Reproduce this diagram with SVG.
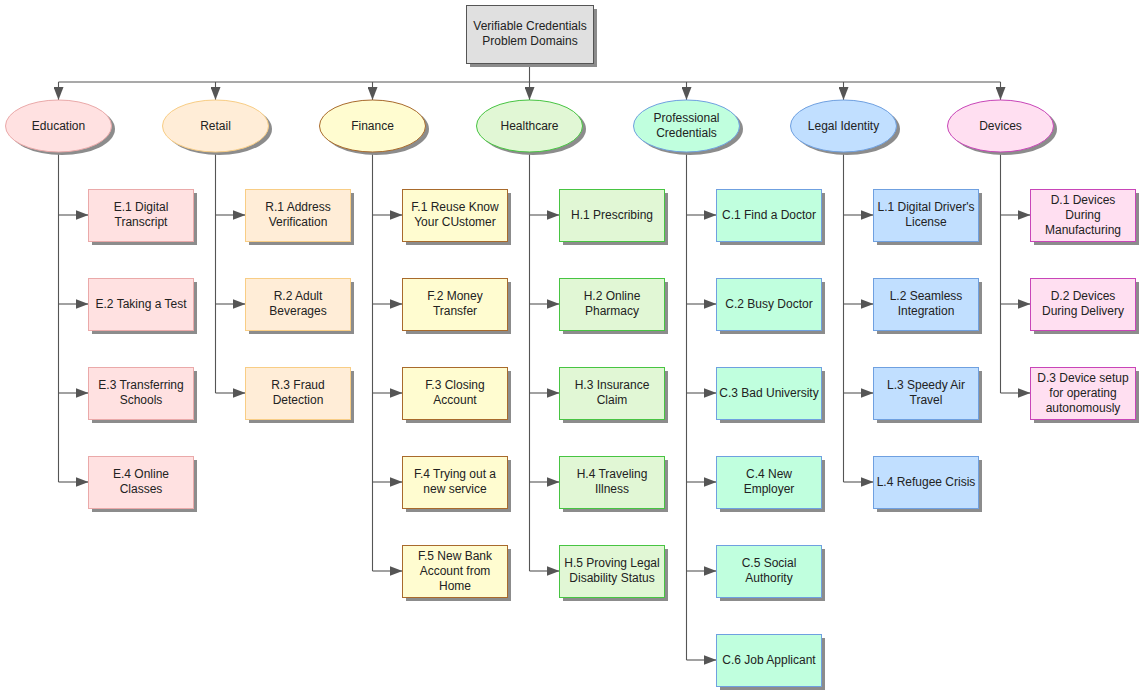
<svg xmlns="http://www.w3.org/2000/svg" width="1145" height="695" viewBox="0 0 1145 695">
<style>
text{font-family:"Liberation Sans",Arial,sans-serif;font-size:12px;fill:#222;text-anchor:middle}
.sh{fill:#8c8c8c}
.c{fill:none;stroke:#555;stroke-width:1.1}
.e{fill:#ffe1e1;stroke:#eaa9a9}
.r{fill:#ffedd7;stroke:#f8cd85}
.f{fill:#fffcd0;stroke:#a86a2c}
.h{fill:#e1f7d5;stroke:#47c442}
.p{fill:#c0ffde;stroke:#6fa0e0}
.l{fill:#c1dfff;stroke:#6fa0e0}
.d{fill:#ffdff1;stroke:#c845b8}
</style>
<defs>
<marker id="a" markerUnits="userSpaceOnUse" markerWidth="14" markerHeight="10" refX="13" refY="5" orient="auto">
<path d="M0,0 L13,5 L0,10 z" fill="#555"/>
</marker>
</defs>
<rect width="1145" height="695" fill="#fff"/>
<g id="connectors">
<path class="c" d="M58.5,82 H1000.5"/>
<path class="c" marker-end="url(#a)" d="M529.5,63 V100"/>
<path class="c" marker-end="url(#a)" d="M58.5,82 V100"/>
<path class="c" marker-end="url(#a)" d="M215.5,82 V100"/>
<path class="c" marker-end="url(#a)" d="M372.5,82 V100"/>
<path class="c" marker-end="url(#a)" d="M686.5,82 V100"/>
<path class="c" marker-end="url(#a)" d="M843.5,82 V100"/>
<path class="c" marker-end="url(#a)" d="M1000.5,82 V100"/>
<path class="c" d="M58.5,152 V482 M215.5,152 V393 M372.5,152 V571 M529.5,152 V571 M686.5,152 V660 M843.5,152 V482 M1000.5,152 V393"/>
<g marker-end="url(#a)" class="c">
<path d="M58.5,215 H88.5"/><path d="M58.5,304 H88.5"/><path d="M58.5,393 H88.5"/><path d="M58.5,482 H88.5"/>
<path d="M215.5,215 H245.5"/><path d="M215.5,304 H245.5"/><path d="M215.5,393 H245.5"/>
<path d="M372.5,215 H402.5"/><path d="M372.5,304 H402.5"/><path d="M372.5,393 H402.5"/><path d="M372.5,482 H402.5"/><path d="M372.5,571 H402.5"/>
<path d="M529.5,215 H559.5"/><path d="M529.5,304 H559.5"/><path d="M529.5,393 H559.5"/><path d="M529.5,482 H559.5"/><path d="M529.5,571 H559.5"/>
<path d="M686.5,215 H716.5"/><path d="M686.5,304 H716.5"/><path d="M686.5,393 H716.5"/><path d="M686.5,482 H716.5"/><path d="M686.5,571 H716.5"/><path d="M686.5,660 H716.5"/>
<path d="M843.5,215 H873.5"/><path d="M843.5,304 H873.5"/><path d="M843.5,393 H873.5"/><path d="M843.5,482 H873.5"/>
<path d="M1000.5,215 H1030.5"/><path d="M1000.5,304 H1030.5"/><path d="M1000.5,393 H1030.5"/>
</g>
</g>
<g id="root">
<rect class="sh" x="470" y="9" width="127" height="58"/>
<rect x="466.5" y="5.5" width="127" height="58" fill="#e0e0e0" stroke="#555"/>
<text x="530" y="30">Verifiable Credentials</text>
<text x="530" y="45">Problem Domains</text>
</g>
<g id="education">
<ellipse class="sh" cx="62" cy="129" rx="53" ry="26"/>
<ellipse class="e" cx="58.5" cy="126" rx="53" ry="26"/>
<text x="58.5" y="130">Education</text>
</g>
<g id="retail">
<ellipse class="sh" cx="219" cy="129" rx="53" ry="26"/>
<ellipse class="r" cx="215.5" cy="126" rx="53" ry="26"/>
<text x="215.5" y="130">Retail</text>
</g>
<g id="finance">
<ellipse class="sh" cx="376" cy="129" rx="53" ry="26"/>
<ellipse class="f" cx="372.5" cy="126" rx="53" ry="26"/>
<text x="372.5" y="130">Finance</text>
</g>
<g id="healthcare">
<ellipse class="sh" cx="533" cy="129" rx="53" ry="26"/>
<ellipse class="h" cx="529.5" cy="126" rx="53" ry="26"/>
<text x="529.5" y="130">Healthcare</text>
</g>
<g id="professional">
<ellipse class="sh" cx="690" cy="129" rx="53" ry="26"/>
<ellipse class="p" cx="686.5" cy="126" rx="53" ry="26"/>
<text x="686.5" y="122">Professional</text>
<text x="686.5" y="137">Credentials</text>
</g>
<g id="legal">
<ellipse class="sh" cx="847" cy="129" rx="53" ry="26"/>
<ellipse class="l" cx="843.5" cy="126" rx="53" ry="26"/>
<text x="843.5" y="130">Legal Identity</text>
</g>
<g id="devices">
<ellipse class="sh" cx="1004" cy="129" rx="53" ry="26"/>
<ellipse class="d" cx="1000.5" cy="126" rx="53" ry="26"/>
<text x="1000.5" y="130">Devices</text>
</g>
<g id="E1"><rect class="sh" x="92" y="193" width="105" height="52"/><rect class="e" x="88.5" y="189.5" width="105" height="52"/><text x="141" y="211">E.1 Digital</text><text x="141" y="226">Transcript</text></g>
<g id="E2"><rect class="sh" x="92" y="282" width="105" height="52"/><rect class="e" x="88.5" y="278.5" width="105" height="52"/><text x="141" y="308">E.2 Taking a Test</text></g>
<g id="E3"><rect class="sh" x="92" y="371" width="105" height="52"/><rect class="e" x="88.5" y="367.5" width="105" height="52"/><text x="141" y="389">E.3 Transferring</text><text x="141" y="404">Schools</text></g>
<g id="E4"><rect class="sh" x="92" y="460" width="105" height="52"/><rect class="e" x="88.5" y="456.5" width="105" height="52"/><text x="141" y="478">E.4 Online</text><text x="141" y="493">Classes</text></g>
<g id="R1"><rect class="sh" x="249" y="193" width="105" height="52"/><rect class="r" x="245.5" y="189.5" width="105" height="52"/><text x="298" y="211">R.1 Address</text><text x="298" y="226">Verification</text></g>
<g id="R2"><rect class="sh" x="249" y="282" width="105" height="52"/><rect class="r" x="245.5" y="278.5" width="105" height="52"/><text x="298" y="300">R.2 Adult</text><text x="298" y="315">Beverages</text></g>
<g id="R3"><rect class="sh" x="249" y="371" width="105" height="52"/><rect class="r" x="245.5" y="367.5" width="105" height="52"/><text x="298" y="389">R.3 Fraud</text><text x="298" y="404">Detection</text></g>
<g id="F1"><rect class="sh" x="406" y="193" width="105" height="52"/><rect class="f" x="402.5" y="189.5" width="105" height="52"/><text x="455" y="211">F.1 Reuse Know</text><text x="455" y="226">Your CUstomer</text></g>
<g id="F2"><rect class="sh" x="406" y="282" width="105" height="52"/><rect class="f" x="402.5" y="278.5" width="105" height="52"/><text x="455" y="300">F.2 Money</text><text x="455" y="315">Transfer</text></g>
<g id="F3"><rect class="sh" x="406" y="371" width="105" height="52"/><rect class="f" x="402.5" y="367.5" width="105" height="52"/><text x="455" y="389">F.3 Closing</text><text x="455" y="404">Account</text></g>
<g id="F4"><rect class="sh" x="406" y="460" width="105" height="52"/><rect class="f" x="402.5" y="456.5" width="105" height="52"/><text x="455" y="478">F.4 Trying out a</text><text x="455" y="493">new service</text></g>
<g id="F5"><rect class="sh" x="406" y="549" width="105" height="52"/><rect class="f" x="402.5" y="545.5" width="105" height="52"/><text x="455" y="560">F.5 New Bank</text><text x="455" y="575">Account from</text><text x="455" y="590">Home</text></g>
<g id="H1"><rect class="sh" x="563" y="193" width="105" height="52"/><rect class="h" x="559.5" y="189.5" width="105" height="52"/><text x="612" y="219">H.1 Prescribing</text></g>
<g id="H2"><rect class="sh" x="563" y="282" width="105" height="52"/><rect class="h" x="559.5" y="278.5" width="105" height="52"/><text x="612" y="300">H.2 Online</text><text x="612" y="315">Pharmacy</text></g>
<g id="H3"><rect class="sh" x="563" y="371" width="105" height="52"/><rect class="h" x="559.5" y="367.5" width="105" height="52"/><text x="612" y="389">H.3 Insurance</text><text x="612" y="404">Claim</text></g>
<g id="H4"><rect class="sh" x="563" y="460" width="105" height="52"/><rect class="h" x="559.5" y="456.5" width="105" height="52"/><text x="612" y="478">H.4 Traveling</text><text x="612" y="493">Illness</text></g>
<g id="H5"><rect class="sh" x="563" y="549" width="105" height="52"/><rect class="h" x="559.5" y="545.5" width="105" height="52"/><text x="612" y="567">H.5 Proving Legal</text><text x="612" y="582">Disability Status</text></g>
<g id="C1"><rect class="sh" x="720" y="193" width="105" height="52"/><rect class="p" x="716.5" y="189.5" width="105" height="52"/><text x="769" y="219">C.1 Find a Doctor</text></g>
<g id="C2"><rect class="sh" x="720" y="282" width="105" height="52"/><rect class="p" x="716.5" y="278.5" width="105" height="52"/><text x="769" y="308">C.2 Busy Doctor</text></g>
<g id="C3"><rect class="sh" x="720" y="371" width="105" height="52"/><rect class="p" x="716.5" y="367.5" width="105" height="52"/><text x="769" y="397">C.3 Bad University</text></g>
<g id="C4"><rect class="sh" x="720" y="460" width="105" height="52"/><rect class="p" x="716.5" y="456.5" width="105" height="52"/><text x="769" y="478">C.4 New</text><text x="769" y="493">Employer</text></g>
<g id="C5"><rect class="sh" x="720" y="549" width="105" height="52"/><rect class="p" x="716.5" y="545.5" width="105" height="52"/><text x="769" y="567">C.5 Social</text><text x="769" y="582">Authority</text></g>
<g id="C6"><rect class="sh" x="720" y="638" width="105" height="52"/><rect class="p" x="716.5" y="634.5" width="105" height="52"/><text x="769" y="664">C.6 Job Applicant</text></g>
<g id="L1"><rect class="sh" x="877" y="193" width="105" height="52"/><rect class="l" x="873.5" y="189.5" width="105" height="52"/><text x="926" y="211">L.1 Digital Driver's</text><text x="926" y="226">License</text></g>
<g id="L2"><rect class="sh" x="877" y="282" width="105" height="52"/><rect class="l" x="873.5" y="278.5" width="105" height="52"/><text x="926" y="300">L.2 Seamless</text><text x="926" y="315">Integration</text></g>
<g id="L3"><rect class="sh" x="877" y="371" width="105" height="52"/><rect class="l" x="873.5" y="367.5" width="105" height="52"/><text x="926" y="389">L.3 Speedy Air</text><text x="926" y="404">Travel</text></g>
<g id="L4"><rect class="sh" x="877" y="460" width="105" height="52"/><rect class="l" x="873.5" y="456.5" width="105" height="52"/><text x="926" y="486">L.4 Refugee Crisis</text></g>
<g id="D1"><rect class="sh" x="1034" y="193" width="105" height="52"/><rect class="d" x="1030.5" y="189.5" width="105" height="52"/><text x="1083" y="204">D.1 Devices</text><text x="1083" y="219">During</text><text x="1083" y="234">Manufacturing</text></g>
<g id="D2"><rect class="sh" x="1034" y="282" width="105" height="52"/><rect class="d" x="1030.5" y="278.5" width="105" height="52"/><text x="1083" y="300">D.2 Devices</text><text x="1083" y="315">During Delivery</text></g>
<g id="D3"><rect class="sh" x="1034" y="371" width="105" height="52"/><rect class="d" x="1030.5" y="367.5" width="105" height="52"/><text x="1083" y="382">D.3 Device setup</text><text x="1083" y="397">for operating</text><text x="1083" y="412">autonomously</text></g>
</svg>
